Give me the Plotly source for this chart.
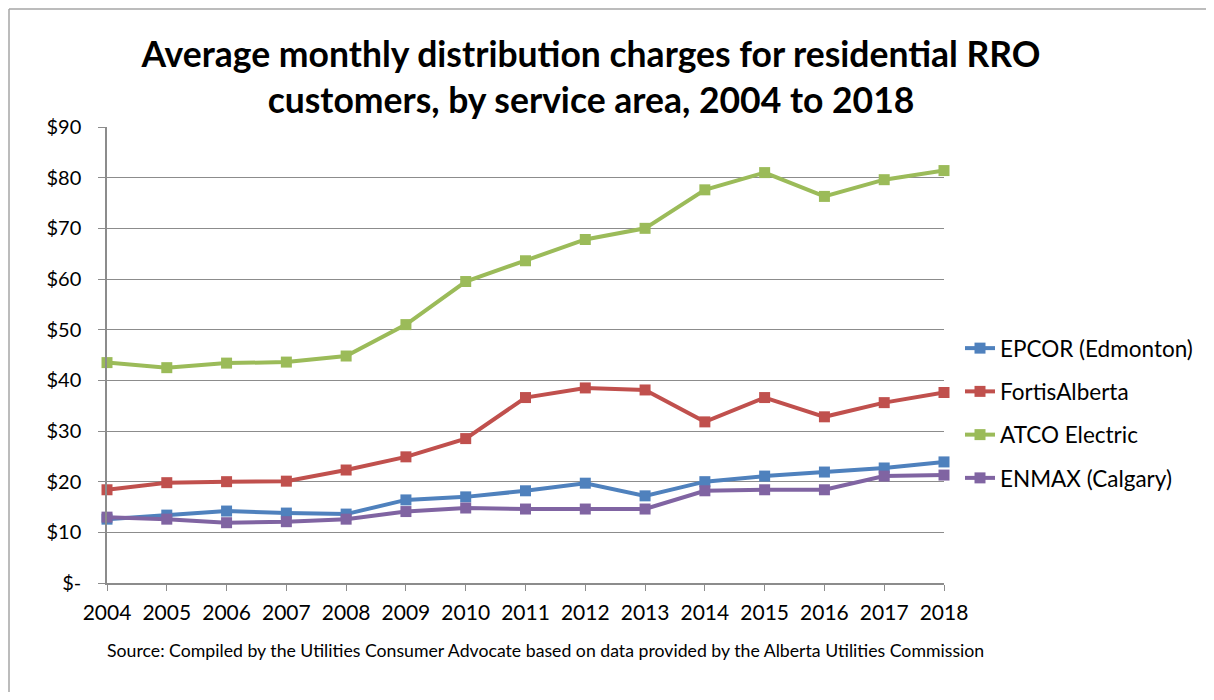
import plotly.graph_objects as go

years = list(range(2004, 2019))
epcor = [12.6, 13.4, 14.2, 13.8, 13.6, 16.4, 17.0, 18.2, 19.7, 17.2, 20.0, 21.1, 21.9, 22.7, 23.9]
fortis = [18.4, 19.8, 20.0, 20.1, 22.3, 24.9, 28.5, 36.6, 38.5, 38.1, 31.8, 36.6, 32.8, 35.6, 37.6]
atco = [43.5, 42.5, 43.4, 43.6, 44.8, 51.0, 59.5, 63.6, 67.8, 70.0, 77.6, 81.0, 76.3, 79.6, 81.4]
enmax = [13.0, 12.6, 11.9, 12.1, 12.6, 14.1, 14.8, 14.6, 14.6, 14.6, 18.2, 18.4, 18.4, 21.1, 21.3]

series_names = ["EPCOR (Edmonton)", "FortisAlberta", "ATCO Electric", "ENMAX (Calgary)"]
series_values = [epcor, fortis, atco, enmax]
series_colors = ["#4F81BD", "#C0504D", "#9BBB59", "#8064A2"]

y_tickvals = [0, 10, 20, 30, 40, 50, 60, 70, 80, 90]
y_ticktext = ["$-", "$10", "$20", "$30", "$40", "$50", "$60", "$70", "$80", "$90"]

title_text = "Average monthly distribution charges for residential RRO<br>customers, by service area, 2004 to 2018"
source_text = "Source: Compiled by the Utilities Consumer Advocate based on data provided by the Alberta Utilities Commission"

FONT = "Lato, 'Open Sans', sans-serif"

fig = go.Figure()
for i, (name, vals, col) in enumerate(zip(series_names, series_values, series_colors)):
    fig.add_trace(go.Scatter(
        x=years, y=vals, name=name, mode="lines+markers", legendgroup=f"g{i}",
        line=dict(color=col, width=4),
        marker=dict(symbol="square", size=11, color=col),
        cliponaxis=False,
    ))

OFF = 8  # page body margin
W, H = 1214 - OFF, 700 - 2 * OFF
L, R, T, B = 107 - OFF, 944 - OFF, 127 - OFF, 583 - OFF
pw, ph = R - L, B - T

def px_x(x):
    return (x - OFF - L) / pw

def px_y(y):
    return (B - (y - OFF)) / ph

border = dict(color="#a6a6a6", width=1.5)

fig.update_layout(
    width=W, height=H, autosize=False,
    margin=dict(l=L, r=W - R, t=T, b=H - B, pad=0),
    paper_bgcolor="white", plot_bgcolor="white",
    font=dict(family=FONT, color="#000000", size=20),
    title=dict(text=title_text, x=(591 - OFF) / W, xanchor="center", y=1 - (67 - OFF) / H, yanchor="middle",
               font=dict(family=FONT, size=35.5, color="#000000", weight="bold")),
    showlegend=True,
    legend=dict(x=px_x(960), y=px_y(327), xanchor="left", yanchor="top",
                font=dict(family=FONT, size=22.5, color="#000000"),
                tracegroupgap=11, bgcolor="rgba(0,0,0,0)"),
    xaxis=dict(range=[2004, 2018], tickvals=years, ticktext=[str(y) for y in years],
               showgrid=False, zeroline=False, showline=True, linecolor="#8c8c8c", linewidth=1.5,
               ticks="outside", ticklen=6, tickcolor="#8c8c8c", ticklabelstandoff=4,
               tickfont=dict(size=21, family=FONT)),
    yaxis=dict(range=[0, 90], tickvals=y_tickvals, ticktext=y_ticktext,
               showgrid=True, gridcolor="#8c8c8c", gridwidth=1.2, zeroline=False,
               showline=True, linecolor="#8c8c8c", linewidth=1.5,
               ticks="outside", ticklen=7, tickcolor="#8c8c8c", ticklabelstandoff=13,
               tickfont=dict(size=20, family=FONT)),
    annotations=[dict(text=source_text, xref="paper", yref="paper", x=px_x(545), y=px_y(650),
                      xanchor="center", yanchor="middle", showarrow=False,
                      font=dict(family=FONT, size=17.7, color="#000000"))],
    shapes=[
        dict(type="line", xref="paper", yref="paper", x0=px_x(OFF + 1), x1=px_x(OFF + 1),
             y0=px_y(OFF + H), y1=px_y(OFF + 1), line=border, layer="below"),
        dict(type="line", xref="paper", yref="paper", x0=px_x(OFF + 1), x1=px_x(1214),
             y0=px_y(OFF + 1), y1=px_y(OFF + 1), line=border, layer="below"),
    ],
)

fig.write_html("out.html")
